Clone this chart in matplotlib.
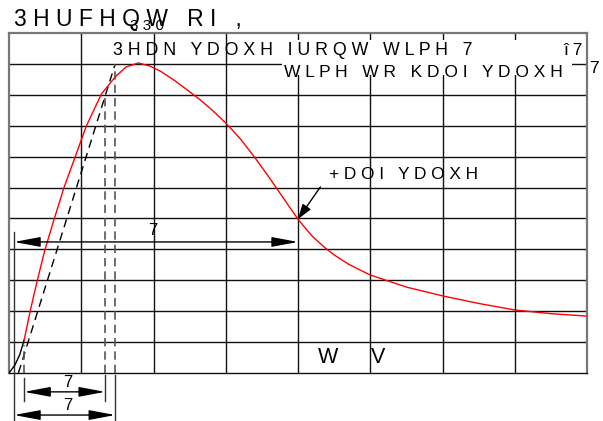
import matplotlib
matplotlib.use('Agg')
from matplotlib import pyplot
from matplotlib.patches import Rectangle

# time in grid columns, value in percent of peak
t_foot = [0.0, 0.08, 0.15, 0.21]
v_foot = [0.0, 2.5, 6.0, 10.7]

t_wave = [0.21, 0.29, 0.39, 0.50, 0.625, 0.76, 0.92, 1.07, 1.28, 1.47, 1.62,
          1.79, 1.95, 2.1, 2.3, 2.5, 2.65, 2.8, 3.0, 3.2, 3.4, 3.6, 3.8, 3.9,
          4.0, 4.1, 4.2, 4.36, 4.5, 4.7, 5.0, 5.5, 6.01, 6.5, 7.0, 7.5, 8.0]
v_wave = [10.7, 19.7, 29.8, 40.1, 49.8, 59.9, 70.2, 79.9, 90.3, 95.8, 99.0,
          100.3, 99.3, 97.6, 94.5, 91.0, 88.3, 85.3, 80.9, 75.8, 69.8, 63.3,
          56.5, 53.1, 49.8, 46.9, 44.2, 40.8, 38.2, 35.2, 31.7, 27.8, 24.9,
          22.5, 20.4, 19.2, 18.4]

# straight line through the front (30% / 90%) and virtual origin
t_tangent = [0.13, 1.47]
v_tangent = [0.0, 100.0]

t_o1 = 0.21      # virtual origin
t_peak_front = 1.33
t_t1_end = 1.47
t_left = 0.07
t_half = 4.0

title_txt = '3HUFHQW RI ,'
unit_txt = '330'
peak_txt = '3HDN YDOXH IURQW WLPH 7'
peak_sym = '\u00ee7'
half_time_txt = 'WLPH WR KDOI YDOXH'
half_txt = '+DOI YDOXH'
dim_txt = '7'
axis_txt = ['W', 'V']

FONT = 'Liberation Sans'


def spaced(s):
    return ' '.join(s)


fig = pyplot.figure(figsize=(6.03, 4.21), dpi=100)
ax = fig.add_axes([9 / 603, 48 / 421, 578 / 603, 340 / 421])
ax.set_xlim(0, 8)
ax.set_ylim(0, 110)
ax.set_xticks([])
ax.set_yticks([])

for t in range(1, 8):
    ax.axvline(t, color='#111111', lw=1.0, zorder=1)
for v in range(10, 110, 10):
    ax.axhline(v, color='#111111', lw=1.0, zorder=1)

for side in ['left', 'top', 'right']:
    ax.spines[side].set_color('#777777')
    ax.spines[side].set_linewidth(1.6)
ax.spines['bottom'].set_color('#111111')
ax.spines['bottom'].set_linewidth(1.0)

# blank box behind the front/half time captions
ax.add_patch(Rectangle((3.78, 96.4), 4.01, 11.2, facecolor='white',
                       edgecolor='none', zorder=2))

ax.plot(t_foot, v_foot, color='black', lw=1.0, zorder=4)
ax.plot(t_wave, v_wave, color='red', lw=1.0, zorder=4)
ax.plot(t_tangent, v_tangent, color='black', lw=1.0, ls=(0, (6, 4)), zorder=3)

ax.plot([t_peak_front, t_peak_front], [0, 90.5], color='#555555', lw=1.2,
        ls=(0, (5, 3)), zorder=3)
ax.plot([t_t1_end, t_t1_end], [0, 100], color='#555555', lw=1.2,
        ls=(0, (5, 3)), zorder=3)
ax.plot([t_o1, t_o1], [0, 9], color='#555555', lw=1.2,
        ls=(0, (5, 3)), zorder=3)

# extension lines below the axis
ext = dict(color='#333333', lw=1.0, clip_on=False, zorder=3)
ax.plot([t_left, t_left], [45.6, -15.2], **ext)
ax.plot([t_o1, t_o1], [-1.6, -9.1], **ext)
ax.plot([t_peak_front, t_peak_front], [-0.6, -9.1], **ext)
ax.plot([t_t1_end, t_t1_end], [-0.6, -15.2], **ext)


def dimension(x0, x1, y):
    ax.annotate('', xy=(x0, y), xytext=(x1, y),
                arrowprops=dict(arrowstyle='<|-|>,head_length=1.6,head_width=0.3',
                                color='black', lw=1.0, shrinkA=0, shrinkB=0),
                annotation_clip=False, zorder=5)


dimension(t_left, t_half, 42.4)
dimension(t_o1, t_peak_front, -6.1)
dimension(t_left, t_t1_end, -13.6)

ax.annotate('', xy=(t_half, 49.8), xytext=(4.31, 60.2),
            arrowprops=dict(arrowstyle='-|>,head_length=0.9,head_width=0.3',
                            color='black', lw=1.0, shrinkA=0, shrinkB=0),
            zorder=5)

txt = dict(family=FONT, color='black', clip_on=False, zorder=6)
ax.text(0.07, 112.3, spaced(title_txt), fontsize=16.5, ha='left', va='baseline', **txt)
ax.text(1.68, 110.9, spaced(unit_txt), fontsize=11, ha='left', va='baseline', **txt)
ax.text(1.44, 102.9, spaced(peak_txt), fontsize=12.8, ha='left', va='baseline', **txt)
ax.text(7.67, 102.9, spaced(peak_sym), fontsize=12.5, ha='left', va='baseline', **txt)
ax.text(3.80, 95.8, spaced(half_time_txt), fontsize=12.5, ha='left', va='baseline', **txt)
ax.text(8.03, 97.0, dim_txt, fontsize=12.5, ha='left', va='baseline', **txt)
ax.text(4.43, 62.8, spaced(half_txt), fontsize=12.4, ha='left', va='baseline', **txt)
ax.text(1.99, 43.8, dim_txt, fontsize=12, ha='center', va='bottom', **txt)
ax.text(0.82, -4.6, dim_txt, fontsize=12, ha='center', va='baseline', **txt)
ax.text(0.82, -12.0, dim_txt, fontsize=12, ha='center', va='baseline', **txt)
ax.text(4.28, 3.2, axis_txt[0], fontsize=15.5, ha='left', va='baseline', **txt)
ax.text(5.01, 3.2, axis_txt[1], fontsize=15.5, ha='left', va='baseline', **txt)

fig.savefig('out.png', dpi=100)
